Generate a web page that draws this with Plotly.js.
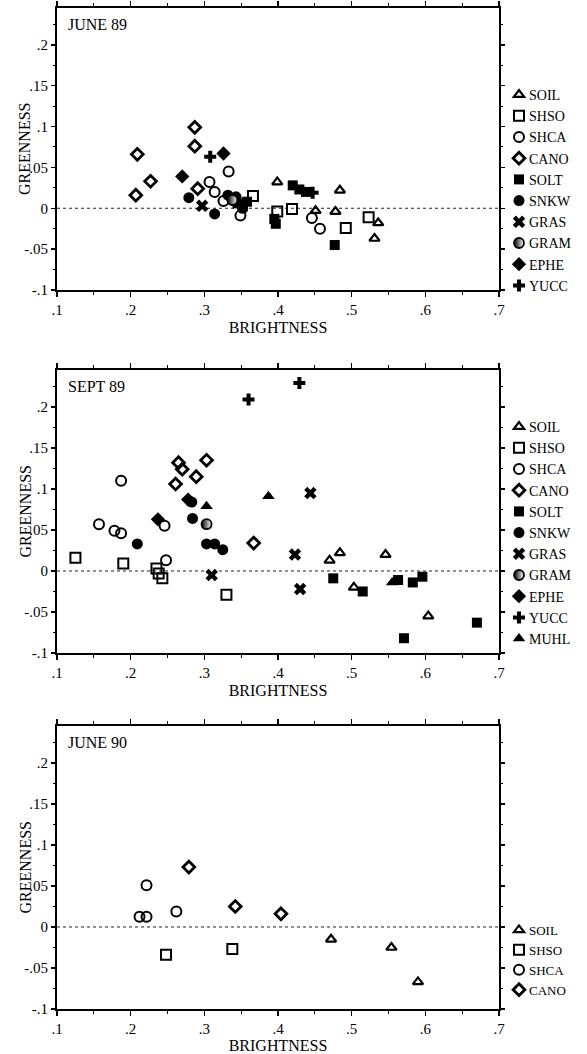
<!DOCTYPE html>
<html><head><meta charset="utf-8">
<script src="https://cdn.plot.ly/plotly-3.0.1.min.js"></script>
<style>
html,body{margin:0;padding:0;background:#fff}
#chart{width:587px;height:1054px}
/* tighten the gap between legend symbol and label, as in the original */
#chart .legendtext, #chart .legend2text, #chart .legend3text{transform:translateX(-10px)}
</style>
</head><body><div id="chart"></div>
<script>
// ---------- DATA ----------
const classNames = ['SOIL','SHSO','SHCA','CANO','SOLT','SNKW','GRAS','GRAM','EPHE','YUCC','MUHL'];
const panelTitles = ['JUNE 89','SEPT 89','JUNE 90'];

// JUNE 89
const jun89_x = [0.399,0.451,0.478,0.484,0.536,0.531,
  0.366,0.399,0.419,0.492,0.523,
  0.333,0.307,0.314,0.326,0.349,0.446,0.457,
  0.287,0.287,0.227,0.291,0.209,0.207,
  0.395,0.397,0.420,0.429,0.438,0.477,0.345,0.352,0.358,
  0.279,0.314,0.332,0.343,0.352,
  0.297,
  0.338,
  0.270,0.326,
  0.308,0.447];
const jun89_y = [0.032,-0.003,-0.004,0.022,-0.018,-0.037,
  0.015,-0.004,-0.001,-0.024,-0.011,
  0.045,0.032,0.020,0.009,-0.009,-0.012,-0.025,
  0.099,0.076,0.033,0.024,0.066,0.016,
  -0.013,-0.019,0.028,0.023,0.020,-0.045,0.006,0.002,0.008,
  0.013,-0.007,0.016,0.014,0.000,
  0.003,
  0.010,
  0.039,0.067,
  0.063,0.019];
const jun89_cls = ['SOIL','SOIL','SOIL','SOIL','SOIL','SOIL',
  'SHSO','SHSO','SHSO','SHSO','SHSO',
  'SHCA','SHCA','SHCA','SHCA','SHCA','SHCA','SHCA',
  'CANO','CANO','CANO','CANO','CANO','CANO',
  'SOLT','SOLT','SOLT','SOLT','SOLT','SOLT','SOLT','SOLT','SOLT',
  'SNKW','SNKW','SNKW','SNKW','SNKW',
  'GRAS',
  'GRAM',
  'EPHE','EPHE',
  'YUCC','YUCC'];

// SEPT 89
const sep89_x = [0.470,0.484,0.546,0.503,0.604,
  0.125,0.190,0.235,0.238,0.243,0.330,
  0.157,0.178,0.187,0.187,0.246,0.248,
  0.303,0.265,0.270,0.289,0.261,0.367,
  0.475,0.515,0.563,0.583,0.596,0.670,0.571,
  0.283,0.284,0.209,0.303,0.314,0.325,
  0.444,0.423,0.310,0.430,
  0.303,
  0.237,0.278,
  0.429,0.360,
  0.303,0.387,0.555];
const sep89_y = [0.013,0.022,0.020,-0.020,-0.055,
  0.016,0.009,0.003,-0.003,-0.009,-0.029,
  0.057,0.049,0.046,0.110,0.055,0.013,
  0.135,0.132,0.124,0.115,0.106,0.034,
  -0.009,-0.025,-0.011,-0.014,-0.007,-0.063,-0.082,
  0.084,0.064,0.033,0.033,0.033,0.026,
  0.095,0.020,-0.005,-0.022,
  0.057,
  0.063,0.087,
  0.229,0.209,
  0.079,0.091,-0.014];
const sep89_cls = ['SOIL','SOIL','SOIL','SOIL','SOIL',
  'SHSO','SHSO','SHSO','SHSO','SHSO','SHSO',
  'SHCA','SHCA','SHCA','SHCA','SHCA','SHCA',
  'CANO','CANO','CANO','CANO','CANO','CANO',
  'SOLT','SOLT','SOLT','SOLT','SOLT','SOLT','SOLT',
  'SNKW','SNKW','SNKW','SNKW','SNKW','SNKW',
  'GRAS','GRAS','GRAS','GRAS',
  'GRAM',
  'EPHE','EPHE',
  'YUCC','YUCC',
  'MUHL','MUHL','MUHL'];

// JUNE 90
const jun90_x = [0.472,0.554,0.590, 0.248,0.338, 0.2215,0.212,0.2215,0.262, 0.279,0.342,0.404];
const jun90_y = [-0.015,-0.025,-0.067, -0.034,-0.027, 0.051,0.0126,0.0126,0.019, 0.073,0.025,0.016];
const jun90_cls = ['SOIL','SOIL','SOIL','SHSO','SHSO','SHCA','SHCA','SHCA','SHCA','CANO','CANO','CANO'];

// ticks
const xTickVals = [0.1,0.2,0.3,0.4,0.5,0.6,0.7];
const xTickText = ['.1','.2','.3','.4','.5','.6','.7'];
const yTickVals = [-0.1,-0.05,0,0.05,0.1,0.15,0.2];
const yTickText = ['-.1','-.05','0','.05','.1','.15','.2'];

// ---------- STYLE ----------
const FONT = 'Liberation Serif, Times New Roman, serif';
const styles = {
  SOIL: {symbol:'triangle-up-open', size:9, line:{width:2.2, color:'#000'}},
  SHSO: {symbol:'square-open', size:10, line:{width:2, color:'#000'}},
  SHCA: {symbol:'circle-open', size:10, line:{width:2, color:'#000'}},
  CANO: {symbol:'diamond-open', size:9, line:{width:2.8, color:'#000'}},
  SOLT: {symbol:'square', size:10, line:{width:0}},
  SNKW: {symbol:'circle', size:11, line:{width:0}},
  GRAS: {symbol:'x', size:11, line:{width:0}},
  GRAM: {symbol:'circle', size:10, line:{width:1.8, color:'#000'}, gradient:{type:'horizontal', color:'#fff'}},
  EPHE: {symbol:'diamond', size:11, line:{width:0}},
  YUCC: {symbol:'cross', size:10, line:{width:0}},
  MUHL: {symbol:'triangle-up', size:11, line:{width:0}}
};

const panels = [
  {x:jun89_x, y:jun89_y, c:jun89_cls},
  {x:sep89_x, y:sep89_y, c:sep89_cls},
  {x:jun90_x, y:jun90_y, c:jun90_cls}
];

const traces = [];
panels.forEach((p, i) => {
  const sfx = i === 0 ? '' : String(i + 1);
  classNames.forEach(cn => {
    const xs = [], ys = [];
    p.c.forEach((c, k) => { if (c === cn) { xs.push(p.x[k]); ys.push(p.y[k]); } });
    if (!xs.length) return;
    const st = styles[cn];
    const marker = {symbol: st.symbol, size: st.size, color:'#000', line: st.line};
    if (st.gradient) marker.gradient = st.gradient;
    traces.push({
      type:'scatter', mode:'markers', x: xs, y: ys, name: cn,
      xaxis:'x' + sfx, yaxis:'y' + sfx, legend:'legend' + sfx,
      marker, cliponaxis:false, hoverinfo:'skip'
    });
  });
});

// ---------- LAYOUT ----------
const H = 1054, W = 587;
const xDom = [57/W, 499/W];
const yDoms = [[1-290/H, 1-8/H],[1-653/H, 1-370/H],[1-1009/H, 1-726/H]];
const legendTops = [79, 411, 915];

function xAxis(anchor){
  return {domain:xDom, anchor, range:[0.1,0.7], tickvals:xTickVals, ticktext:xTickText,
    ticks:'outside', ticklen:5, tickwidth:1.5, tickcolor:'#000', showgrid:false, zeroline:false,
    showline:true, linewidth:2, linecolor:'#000', mirror:'ticks',
    minor:{tickvals:[0.15,0.25,0.35,0.45,0.55,0.65], ticks:'outside', ticklen:3, tickwidth:1, tickcolor:'#000'},
    tickfont:{family:FONT, size:15, color:'#000'},
    title:{text:'BRIGHTNESS', font:{family:FONT, size:16, color:'#000'}, standoff:5}
  };
}
function yAxis(anchor, dom){
  return {domain:dom, anchor, range:[-0.1,0.245], tickvals:yTickVals, ticktext:yTickText,
    ticks:'outside', ticklen:4, tickwidth:1.5, tickcolor:'#000', showgrid:false, zeroline:false,
    showline:true, linewidth:2, linecolor:'#000', mirror:'ticks',
    minor:{tickvals:[-0.075,-0.025,0.025,0.075,0.125,0.175,0.225], ticks:'outside', ticklen:2, tickwidth:1, tickcolor:'#000'},
    tickfont:{family:FONT, size:15, color:'#000'}
  };
}

const annotations = [];
panelTitles.forEach((t, i) => {
  const sfx = i === 0 ? '' : String(i+1);
  annotations.push({text:t, xref:'x'+sfx+' domain', yref:'y'+sfx+' domain', x:0.02, y:0.94,
    xanchor:'left', yanchor:'middle', showarrow:false, font:{family:FONT, size:16, color:'#000'}});
  annotations.push({text:'GREENNESS', textangle:-90, xref:'paper', x:25/W, xanchor:'center',
    yref:'y'+sfx+' domain', y:0.5, yanchor:'middle', showarrow:false,
    font:{family:FONT, size:16, color:'#000'}});
});

const layout = {
  width:W, height:H, margin:{l:0,r:0,t:0,b:0},
  paper_bgcolor:'#fff', plot_bgcolor:'#fff',
  font:{family:FONT, size:14, color:'#000'},
  xaxis:xAxis('y'), yaxis:yAxis('x', yDoms[0]),
  xaxis2:xAxis('y2'), yaxis2:yAxis('x2', yDoms[1]),
  xaxis3:xAxis('y3'), yaxis3:yAxis('x3', yDoms[2]),
  shapes:[0,1,2].map(i => {
    const sfx = i === 0 ? '' : String(i+1);
    return {type:'line', xref:'x'+sfx+' domain', x0:0, x1:1, yref:'y'+sfx, y0:0, y1:0,
      line:{color:'#222', width:1, dash:'dot'}, layer:'below'};
  }),
  annotations,
  showlegend:true
};
[0,1,2].forEach(i => {
  const key = i === 0 ? 'legend' : 'legend' + (i+1);
  layout[key] = {x:499/W, xanchor:'left', y:1-legendTops[i]/H, yanchor:'top',
    bgcolor:'rgba(0,0,0,0)', borderwidth:0, tracegroupgap:0,
    font:{family:FONT, size: i === 2 ? 13 : 14, color:'#000'}};
});

Plotly.newPlot('chart', traces, layout, {staticPlot:true, displayModeBar:false});
</script>
</body></html>
